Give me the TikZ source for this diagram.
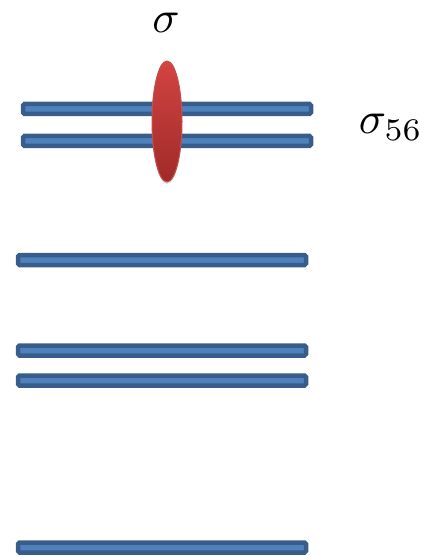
\documentclass[tikz,border=0pt]{standalone}
\usetikzlibrary{shapes.geometric,shadows}
\definecolor{barfill}{RGB}{79,129,189}
\definecolor{barline}{RGB}{56,93,138}
\definecolor{redtop}{RGB}{210,68,66}
\definecolor{redbot}{RGB}{160,42,40}
\definecolor{redline}{RGB}{196,80,77}
\tikzset{
  bar/.style={fill=barfill, draw=barline, line width=4.5pt, rounded corners=1.5pt},
  lens/.style={ellipse, minimum width=30pt, minimum height=121pt, inner sep=0pt,
    top color=redtop, bottom color=redbot, draw=redline, line width=1pt,
    drop shadow={shadow xshift=0pt, shadow yshift=-2pt, opacity=0.25}},
  lbl/.style={scale=4.5, inner sep=0pt}
}
\begin{document}
\begin{tikzpicture}[x=1pt,y=-1pt]
\useasboundingbox (0,0) rectangle (426,556);
\draw[bar] (23,104) rectangle (311,114);
\draw[bar] (23,136) rectangle (311,146);
\draw[bar] (18,255) rectangle (306,265);
\draw[bar] (18,345.5) rectangle (306,355.5);
\draw[bar] (18,375.5) rectangle (306,385.5);
\draw[bar] (18,542.5) rectangle (306,552.5);
\node[lens] (s) at (167,121.5) {};
\node[lbl, anchor=base] (sig) at (166,33) {$\sigma$};
\node[lbl, anchor=base west] (sig56) at (358,134) {$\sigma_{56}$};
\end{tikzpicture}
\end{document}
